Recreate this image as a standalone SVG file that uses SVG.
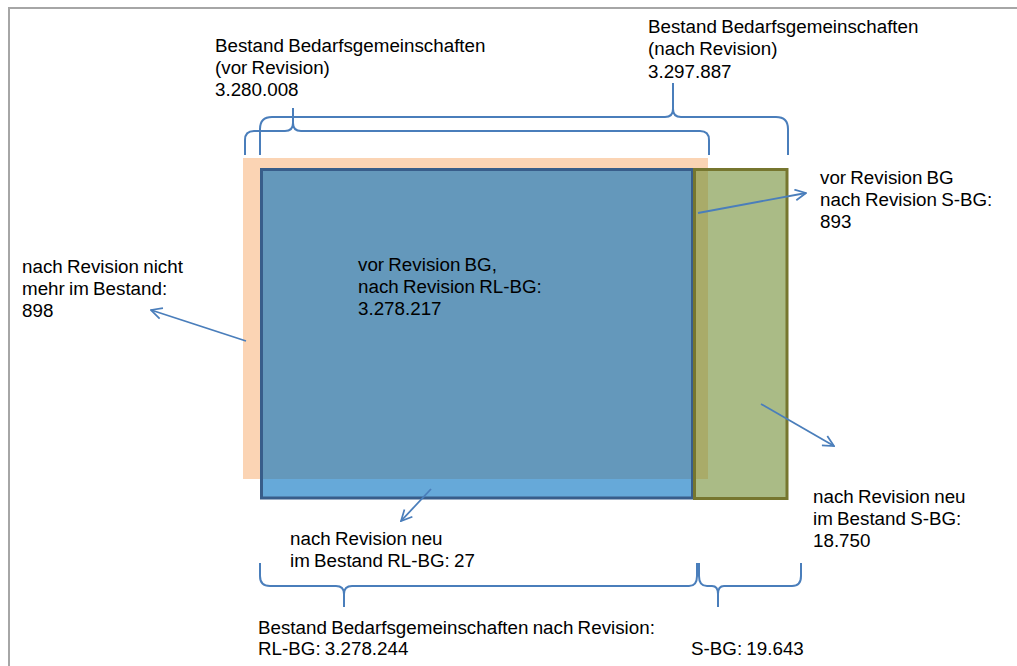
<svg xmlns="http://www.w3.org/2000/svg" width="1017" height="666" viewBox="0 0 1017 666">
<style>
text{font-family:"Liberation Sans",Arial,sans-serif;font-size:18.8px;word-spacing:-1px;fill:#000}
.brace{fill:none;stroke:#4A7EBB;stroke-width:2}
.arrow{fill:none;stroke:#4A7EBB;stroke-width:1.8;marker-end:url(#open)}
</style>
<defs>
<marker id="open" viewBox="0 0 12 12" refX="11" refY="6" markerWidth="13" markerHeight="13" markerUnits="userSpaceOnUse" orient="auto">
<path d="M1,1 L11,6 L1,11" fill="none" stroke="#4A7EBB" stroke-width="1.6"/>
</marker>
</defs>
<rect width="1017" height="666" fill="#fff"/>
<path d="M9,666 L9,8 L1017,8" fill="none" stroke="#A6A6A6" stroke-width="2"/>

<g id="peach-vor-revision">
<rect x="243" y="158" width="465" height="321" fill="#FBD4B4"/>
</g>
<g id="rl-bg">
<rect x="261.5" y="169.5" width="431" height="328.5" fill="#0070C0" fill-opacity="0.6" stroke="#385D8A" stroke-width="3"/>
</g>
<g id="s-bg">
<rect x="694.5" y="169.5" width="92.5" height="329" fill="#76923C" fill-opacity="0.62" stroke="#76762F" stroke-width="3"/>
</g>

<g id="connectors">
<path class="brace" d="M245,155 L245,140 Q245,131 254,131 L285,131 Q293,131 293,123 L293,108 M293,123 Q293,131 301,131 L700,131 Q709,131 709,140 L709,155"/>
<path class="brace" d="M260,155 L260,129 Q260,117 272,117 L665,117 Q673,117 673,109 L673,83 M673,109 Q673,117 681,117 L776,117 Q788,117 788,129 L788,155"/>
<path class="brace" d="M260,563 L260,576 Q260,586 270,586 L336,586 Q344,586 344,594 L344,607 M344,594 Q344,586 352,586 L689,586 Q697,586 697,576 L697,563"/>
<path class="brace" d="M699,563 L699,576 Q699,586 707,586 L712,586 Q718,586 718,594 L718,607 M718,594 Q718,586 724,586 L792,586 Q801,586 801,576 L801,563"/>
<path class="arrow" d="M246,341 L151,310"/>
<path class="arrow" d="M698,213 L806,193"/>
<path class="arrow" d="M761,404 L834,446"/>
<path class="arrow" d="M431,489 L401,521"/>
</g>

<g id="label-vor-revision">
<text x="215" y="52">Bestand Bedarfsgemeinschaften</text>
<text x="215" y="74">(vor Revision)</text>
<text x="215" y="96">3.280.008</text>
</g>
<g id="label-nach-revision">
<text x="648" y="33">Bestand Bedarfsgemeinschaften</text>
<text x="648" y="55">(nach Revision)</text>
<text x="648" y="78">3.297.887</text>
</g>
<g id="label-nicht-mehr">
<text x="22" y="273">nach Revision nicht</text>
<text x="22" y="295">mehr im Bestand:</text>
<text x="22" y="317">898</text>
</g>
<g id="label-rl-bg">
<text x="358" y="271">vor Revision BG,</text>
<text x="358" y="293">nach Revision RL-BG:</text>
<text x="358" y="315">3.278.217</text>
</g>
<g id="label-vor-bg-s-bg">
<text x="820" y="184">vor Revision BG</text>
<text x="820" y="206">nach Revision S-BG:</text>
<text x="820" y="228">893</text>
</g>
<g id="label-neu-s-bg">
<text x="813" y="503">nach Revision neu</text>
<text x="813" y="525">im Bestand S-BG:</text>
<text x="813" y="547">18.750</text>
</g>
<g id="label-neu-rl-bg">
<text x="290" y="545">nach Revision neu</text>
<text x="290" y="567">im Bestand RL-BG: 27</text>
</g>
<g id="label-bestand-nach">
<text x="258" y="634">Bestand Bedarfsgemeinschaften nach Revision:</text>
<text x="258" y="655">RL-BG: 3.278.244</text>
</g>
<g id="label-s-bg">
<text x="691" y="655">S-BG: 19.643</text>
</g>
</svg>
